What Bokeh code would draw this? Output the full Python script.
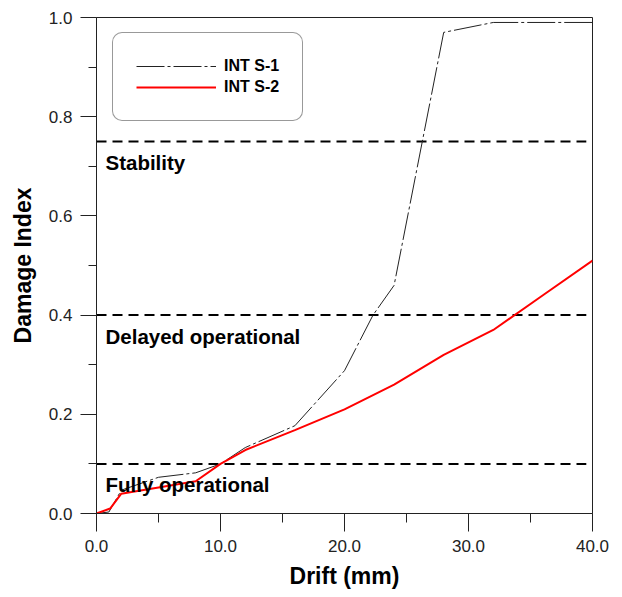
from bokeh.plotting import figure
from bokeh.models import Range1d, FixedTicker, PrintfTickFormatter, Label, Legend, LegendItem
from bokeh.embed import file_html
from bokeh.resources import INLINE

# ---- data ----
drift_s1 = [0, 1.0, 2.0, 5.0, 8.0, 10.0, 12.0, 16.0, 20.0, 22.3, 24.0, 28.0, 32.0, 40.0]
di_s1 = [0, 0.003, 0.047, 0.073, 0.082, 0.10, 0.133, 0.177, 0.288, 0.40, 0.46, 0.97, 0.99, 0.99]

drift_s2 = [0, 1.1, 2.0, 8.0, 10.0, 12.0, 16.0, 20.0, 24.0, 28.0, 32.0, 36.0, 40.0]
di_s2 = [0, 0.01, 0.04, 0.065, 0.10, 0.128, 0.168, 0.21, 0.26, 0.32, 0.37, 0.44, 0.51]

series_names = ["INT S-1", "INT S-2"]

levels = [0.1, 0.4, 0.75]
level_names = ["Fully operational", "Delayed operational", "Stability"]

x_ticks = [0, 10, 20, 30, 40]
x_minor = [5, 15, 25, 35]
y_ticks = [0.0, 0.2, 0.4, 0.6, 0.8, 1.0]
y_minor = [0.1, 0.3, 0.5, 0.7, 0.9]

FONT = "Liberation Sans"
INK = "#222222"

p = figure(frame_width=496, frame_height=496,
           x_range=Range1d(0, 40), y_range=Range1d(0, 1.0),
           output_backend="svg", toolbar_location=None,
           min_border_left=96, min_border_right=22,
           min_border_top=17, min_border_bottom=78)
p.grid.visible = False
p.background_fill_color = "white"
p.border_fill_color = "white"
p.outline_line_color = INK
p.outline_line_width = 1

for ax in (p.xaxis[0], p.yaxis[0]):
    ax.axis_line_color = INK
    ax.major_tick_line_color = INK
    ax.minor_tick_line_color = INK
    ax.major_tick_in = 0
    ax.minor_tick_in = 0
    ax.major_label_text_font = FONT
    ax.major_label_text_font_size = "17px"
    ax.major_label_text_color = INK
    ax.axis_label_text_font = FONT
    ax.axis_label_text_font_style = "bold"
    ax.axis_label_text_font_size = "23px"
    ax.axis_label_text_color = "black"

p.xaxis.ticker = FixedTicker(ticks=x_ticks, minor_ticks=x_minor)
p.yaxis.ticker = FixedTicker(ticks=y_ticks, minor_ticks=y_minor)
p.xaxis.formatter = PrintfTickFormatter(format="%.1f")
p.yaxis.formatter = PrintfTickFormatter(format="%.1f")
p.xaxis.major_tick_out = 18
p.xaxis.minor_tick_out = 9
p.yaxis.major_tick_out = 16
p.yaxis.minor_tick_out = 8
p.xaxis.major_label_standoff = 8
p.yaxis.major_label_standoff = 8
p.xaxis.axis_label = "Drift (mm)"
p.yaxis.axis_label = "Damage Index"
p.xaxis.axis_label_standoff = 8
p.yaxis.axis_label_standoff = 10

# threshold lines
p.segment(x0=0, x1=39.5, y0=levels, y1=levels, line_color="black",
          line_width=2, line_dash="10 6")
for lvl, name in zip(levels, level_names):
    p.add_layout(Label(x=0, y=lvl, x_offset=9, y_offset=-21, text=name,
                       text_font=FONT, text_font_style="bold",
                       text_font_size="20.5px", text_color="black",
                       text_baseline="alphabetic", text_align="left"))

r1 = p.line(drift_s1, di_s1, line_color=INK, line_width=1, line_dash="28 3 3 3")
r2 = p.line(drift_s2, di_s2, line_color="#ff0000", line_width=2)

legend = Legend(items=[LegendItem(label=series_names[0], renderers=[r1]),
                       LegendItem(label=series_names[1], renderers=[r2])],
                location=(16, 392), orientation="vertical",
                glyph_width=80, glyph_height=20, label_height=20,
                label_standoff=8, spacing=1, padding=23, margin=0,
                border_line_color="#333333", border_line_width=1,
                background_fill_color="white", background_fill_alpha=1,
                label_text_font=FONT, label_text_font_style="bold",
                label_text_font_size="16px", label_text_color="black")
if hasattr(legend, "border_radius"):
    try:
        legend.border_radius = 10
    except Exception:
        pass
p.add_layout(legend)

open("out.html", "w").write(file_html(p, INLINE))
